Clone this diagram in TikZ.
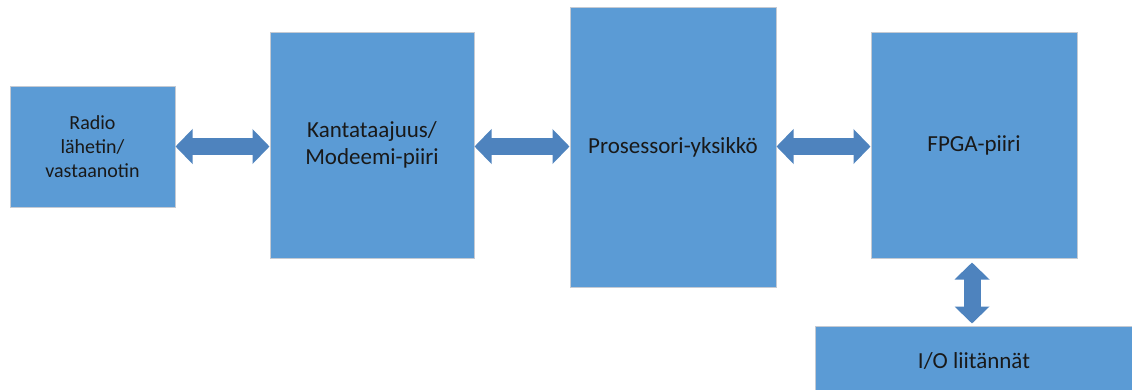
\documentclass[tikz,border=0pt]{standalone}
\usepackage{fontspec}
\setmainfont{Carlito}
\usetikzlibrary{arrows.meta}
\definecolor{lohkovari}{HTML}{5B9BD5}
\definecolor{nuolivari}{HTML}{4E83BE}
\definecolor{reunavari}{HTML}{C4CAD3}
\tikzstyle{lohko} = [draw=reunavari, fill=lohkovari, line width=1pt, align=center, inner sep=0pt, text=black!90, font=\fontsize{23}{27}\selectfont]
\tikzstyle{arrow} = [nuolivari, line width=17pt, {Triangle[length=17pt,width=34pt]}-{Triangle[length=17pt,width=34pt]}]

\begin{document}
\begin{tikzpicture}[x=1pt,y=-1pt]
        \useasboundingbox (0,0) rectangle (1132,389);
        \clip (0,0) rectangle (1132,389);
        % lohkot
        \node[lohko, minimum width=165pt, minimum height=121pt, font=\fontsize{20}{24}\selectfont] (radio) at (92.5,146.5) {Radio\\lähetin/\\vastaanotin};
        \node[lohko, minimum width=204pt, minimum height=226pt] (kanta) at (372,145) {Kantataajuus/\\Modeemi-piiri};
        \node[lohko, minimum width=206pt, minimum height=280pt] (prosessori) at (673,147) {Prosessori-yksikkö};
        \node[lohko, minimum width=206pt, minimum height=226pt] (fpga) at (974,145) {FPGA-piiri};
        \node[lohko, minimum width=318pt, minimum height=70pt] (io) at (974,361) {I/O liitännät};
        % nuolet
        \draw[arrow] (radio.east) -- (radio.east -| kanta.west);
        \draw[arrow] (radio.east -| kanta.east) -- (radio.east -| prosessori.west);
        \draw[arrow] (radio.east -| prosessori.east) -- (radio.east -| fpga.west);
        \draw[arrow, shorten <=4pt, shorten >=2pt] ([xshift=-2pt]fpga.south) -- ([xshift=-2pt]io.north);
\end{tikzpicture}
\end{document}
